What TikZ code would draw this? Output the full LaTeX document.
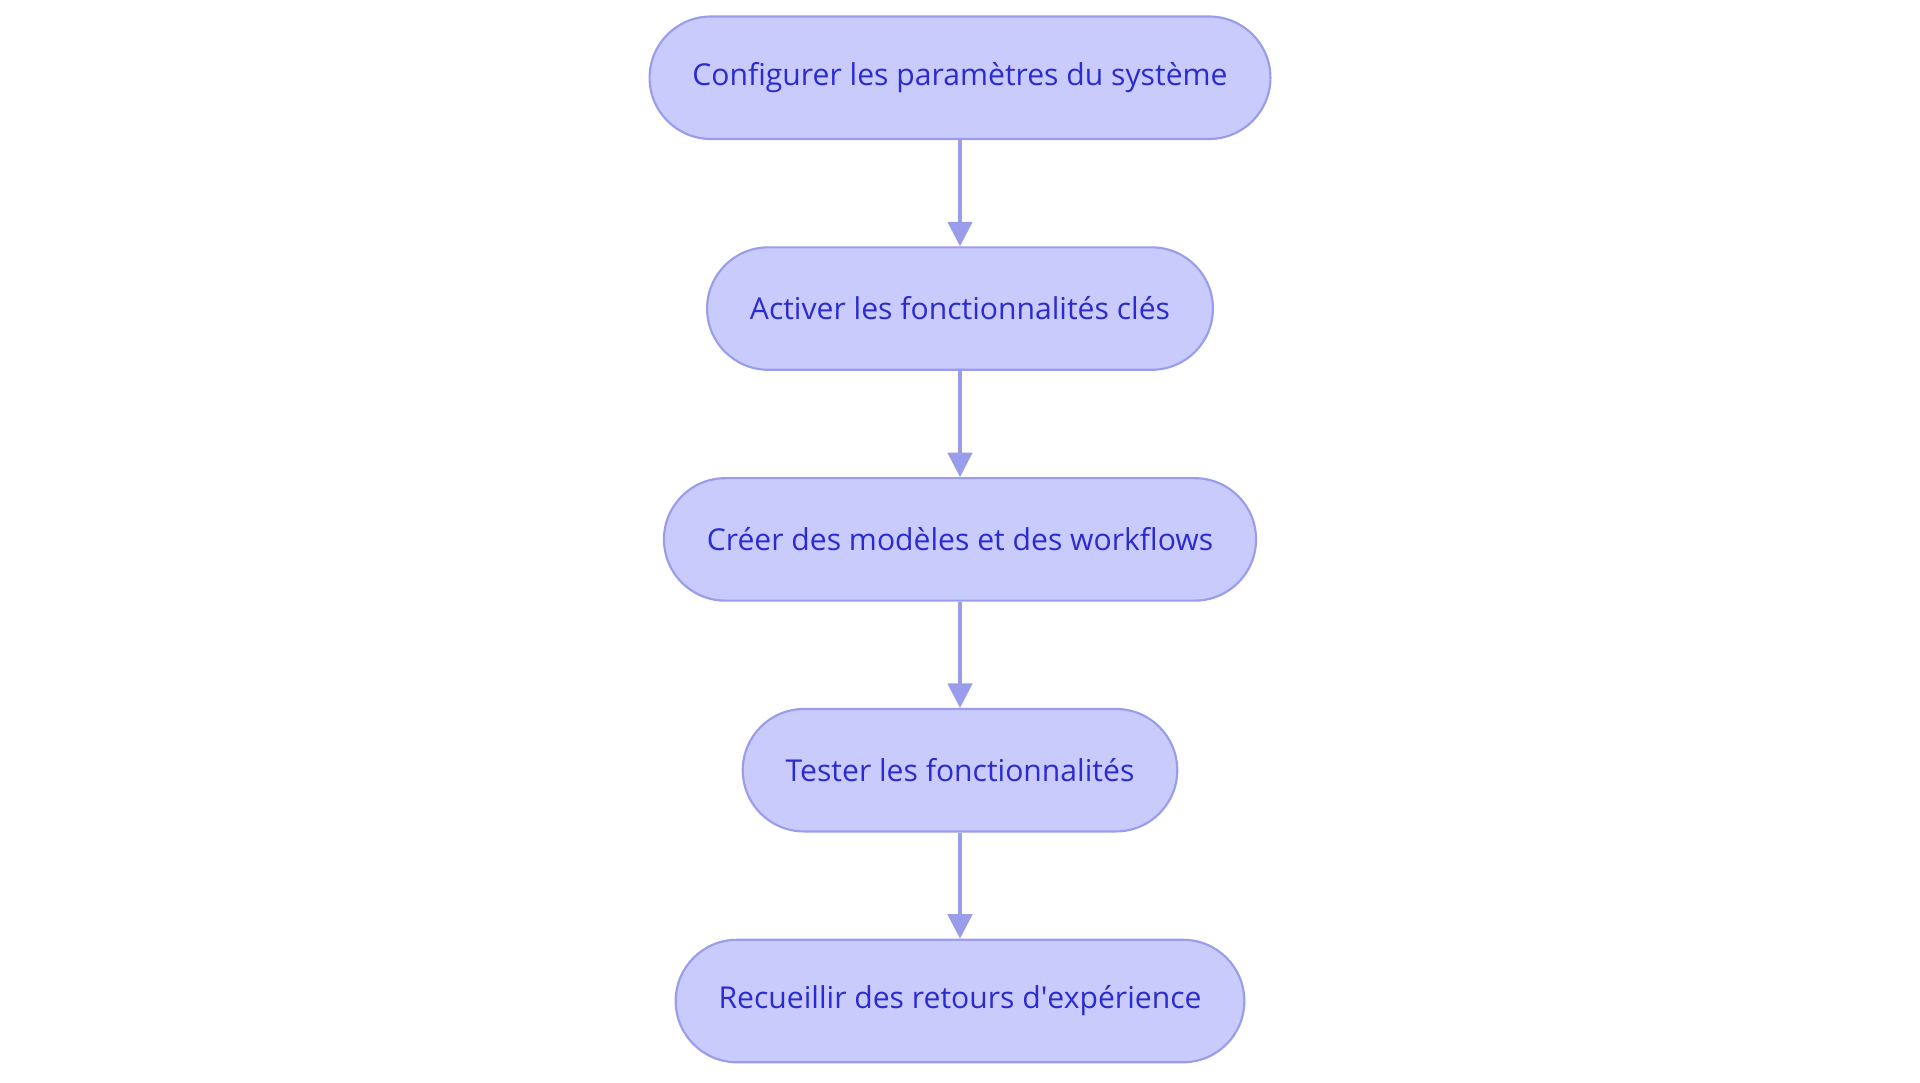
\documentclass[tikz,border=0pt]{standalone}
\usepackage{fontspec}
\setmainfont{Open Sans}
\usetikzlibrary{arrows.meta}
\definecolor{stepfill}{HTML}{CACBFD}
\definecolor{stepline}{HTML}{9A9CEC}
\definecolor{steptext}{HTML}{2B2BD0}
\begin{document}
\begin{tikzpicture}[
                > = {Triangle[length=4mm,width=4mm]}, % arrow head style
                node distance = 3.77cm, % distance between nodes
                every edge/.style = {draw = stepline, line width = 1.5pt}
            ]

            \useasboundingbox (0,0) rectangle (31.36,-17.68);

            \tikzstyle{every node}=[draw = stepline, fill = stepfill, line width = 1pt,
            rounded corners = 1cm, minimum height = 2cm, inner xsep = 0.7cm,
            text = steptext, font = \fontsize{14}{16}\selectfont]

            \node (1) at (15.68,-1.27) {Configurer les paramètres du système};
            \node (2) [below of=1] {Activer les fonctionnalités clés};
            \node (3) [below of=2] {Créer des modèles et des workflows};
            \node (4) [below of=3] {Tester les fonctionnalités};
            \node (5) [below of=4] {Recueillir des retours d\textquotesingle expérience};

            \path[->] (1) edge (2); \path[->] (2) edge (3);
            \path[->] (3) edge (4); \path[->] (4) edge (5);

        \end{tikzpicture}
\end{document}
